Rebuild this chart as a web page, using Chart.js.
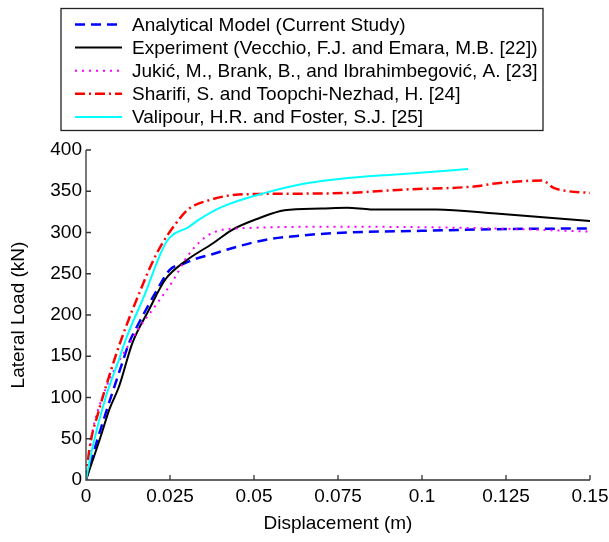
<!DOCTYPE html>
<html><head><meta charset="utf-8">
<script src="https://cdn.jsdelivr.net/npm/chart.js@4/dist/chart.umd.min.js"></script>
<style>html,body{margin:0;padding:0;background:#fff;} canvas{display:block;}</style>
</head><body>
<canvas id="c" width="609" height="542"></canvas>
<script>
// ---- Data (x: displacement in m, y: lateral load in kN) ----
const seriesNames = [
  'Analytical Model (Current Study)',
  'Experiment (Vecchio, F.J. and Emara, M.B. [22])',
  'Jukić, M., Brank, B., and Ibrahimbegović, A. [23]',
  'Sharifi, S. and Toopchi-Nezhad, H. [24]',
  'Valipour, H.R. and Foster, S.J. [25]'
];
const analyticalX = [0, 0.002, 0.005, 0.0108, 0.0128, 0.0157, 0.0211, 0.025, 0.0295, 0.0326, 0.0378, 0.0434, 0.0533, 0.0631, 0.0778, 0.1, 0.122, 0.15];
const analyticalY = [0, 30, 70, 142, 166, 190, 230, 255, 263, 268, 274, 281, 291, 296, 300, 302, 304, 305];

const experimentX = [0, 0.0044, 0.0069, 0.0098, 0.0138, 0.0187, 0.0236, 0.0295, 0.0378, 0.0434, 0.0513, 0.0591, 0.070, 0.0778, 0.0847, 0.1043, 0.122, 0.15];
const experimentY = [0, 53, 85, 113, 166, 206, 243, 265, 287, 303, 317, 327, 329, 330, 328, 328, 323, 314];

const jukicX = [0, 0.0015, 0.004, 0.0142, 0.0208, 0.0255, 0.0305, 0.0365, 0.0454, 0.0778, 0.12, 0.15];
const jukicY = [0, 49, 90, 174, 212, 239, 273, 297, 305, 307, 305, 301];

const sharifiX = [0, 0.001, 0.0039, 0.0069, 0.0103, 0.0147, 0.0211, 0.0275, 0.0307, 0.0365, 0.0454, 0.0601, 0.0778, 0.0945, 0.1161, 0.121, 0.1358, 0.1392, 0.1436, 0.15];
const sharifiY = [0, 37, 85, 126, 168, 215, 275, 315, 329, 339, 346, 347, 348, 352, 356, 359, 363, 354, 350, 348];

const valipourX = [0, 0.002, 0.0059, 0.0098, 0.0118, 0.0172, 0.024, 0.0307, 0.0334, 0.0405, 0.0533, 0.066, 0.0778, 0.0945, 0.1137];
const valipourY = [0, 41, 101, 146, 170, 222, 289, 307, 315, 331, 348, 360, 366, 371, 377];

const xTicks = [0, 0.025, 0.05, 0.075, 0.1, 0.125, 0.15];
const yTicks = [0, 50, 100, 150, 200, 250, 300, 350, 400];
const xTitle = 'Displacement (m)';
const yTitle = 'Lateral Load (kN)';

// ---- Build ----
const pts = (xs, ys) => xs.map((x, i) => ({x: x, y: ys[i]}));
const styles = [
  {color: '#0000ff', width: 2.5, dash: [10, 6]},
  {color: '#000000', width: 2, dash: []},
  {color: '#ff00ff', width: 2, dash: [2, 5]},
  {color: '#ff0000', width: 2.5, dash: [10, 4, 2, 4]},
  {color: '#00ffff', width: 2, dash: []}
];
const rawData = [
  pts(analyticalX, analyticalY),
  pts(experimentX, experimentY),
  pts(jukicX, jukicY),
  pts(sharifiX, sharifiY),
  pts(valipourX, valipourY)
];
const datasets = rawData.map((d, i) => ({
  label: seriesNames[i],
  data: d,
  borderColor: styles[i].color,
  backgroundColor: styles[i].color,
  borderWidth: styles[i].width,
  borderDash: styles[i].dash,
  pointRadius: 0,
  fill: false,
  cubicInterpolationMode: 'monotone',
  order: 5 - i
}));

const FONT = 'Liberation Sans, Arial, sans-serif';

const axesPlugin = {
  id: 'axesPlugin',
  afterDraw(chart) {
    const {ctx, chartArea: {left, right, top, bottom}, scales: {x, y}} = chart;
    ctx.save();
    ctx.strokeStyle = '#333';
    ctx.lineWidth = 1.3;
    ctx.setLineDash([]);
    ctx.beginPath();
    ctx.moveTo(left, top);
    ctx.lineTo(left, bottom);
    ctx.lineTo(right, bottom);
    xTicks.forEach(v => { const px = x.getPixelForValue(v); ctx.moveTo(px, bottom); ctx.lineTo(px, bottom - 5); });
    yTicks.forEach(v => { const py = y.getPixelForValue(v); ctx.moveTo(left, py); ctx.lineTo(left + 5, py); });
    ctx.stroke();

    // legend
    const bx = 61, by = 8.5, bw = 482, bh = 122;
    ctx.strokeStyle = '#222';
    ctx.lineWidth = 1.3;
    ctx.strokeRect(bx, by, bw, bh);
    ctx.font = '19px ' + FONT;
    ctx.textBaseline = 'middle';
    ctx.fillStyle = '#000';
    chart.data.datasets.forEach((ds, i) => {
      const ry = 24.5 + i * 23.1;
      ctx.beginPath();
      ctx.strokeStyle = ds.borderColor;
      ctx.lineWidth = ds.borderWidth;
      ctx.setLineDash(ds.borderDash);
      ctx.moveTo(75, ry);
      ctx.lineTo(122, ry);
      ctx.stroke();
      ctx.setLineDash([]);
      ctx.fillText(ds.label, 132, ry + 1);
    });
    ctx.restore();
  }
};

new Chart(document.getElementById('c'), {
  type: 'line',
  data: {datasets: datasets},
  plugins: [axesPlugin],
  options: {
    responsive: false,
    animation: false,
    devicePixelRatio: 1,
    layout: {padding: {left: 0, right: 19, top: 150, bottom: 0}},
    plugins: {legend: {display: false}, tooltip: {enabled: false}},
    scales: {
      x: {
        type: 'linear', min: 0, max: 0.15,
        afterBuildTicks: s => { s.ticks = xTicks.map(v => ({value: v})); },
        afterFit: s => { s.height = 62; s.paddingRight = 0; s.paddingLeft = 0; },
        grid: {display: false, drawTicks: false},
        border: {display: false},
        ticks: {padding: 5, color: '#000', font: {family: FONT, size: 19}, maxRotation: 0, autoSkip: false,
          callback: v => String(v)},
        title: {display: true, text: xTitle, color: '#000', font: {family: FONT, size: 19}, padding: {top: 0, bottom: 7}}
      },
      y: {
        type: 'linear', min: 0, max: 400,
        afterBuildTicks: s => { s.ticks = yTicks.map(v => ({value: v})); },
        afterFit: s => { s.width = 86; },
        grid: {display: false, drawTicks: false},
        border: {display: false},
        ticks: {padding: 4, color: '#000', font: {family: FONT, size: 19}, autoSkip: false,
          callback: v => String(v)},
        title: {display: true, text: yTitle, color: '#000', font: {family: FONT, size: 19}, padding: {top: 7, bottom: 0}}
      }
    }
  }
});
</script>
</body></html>
